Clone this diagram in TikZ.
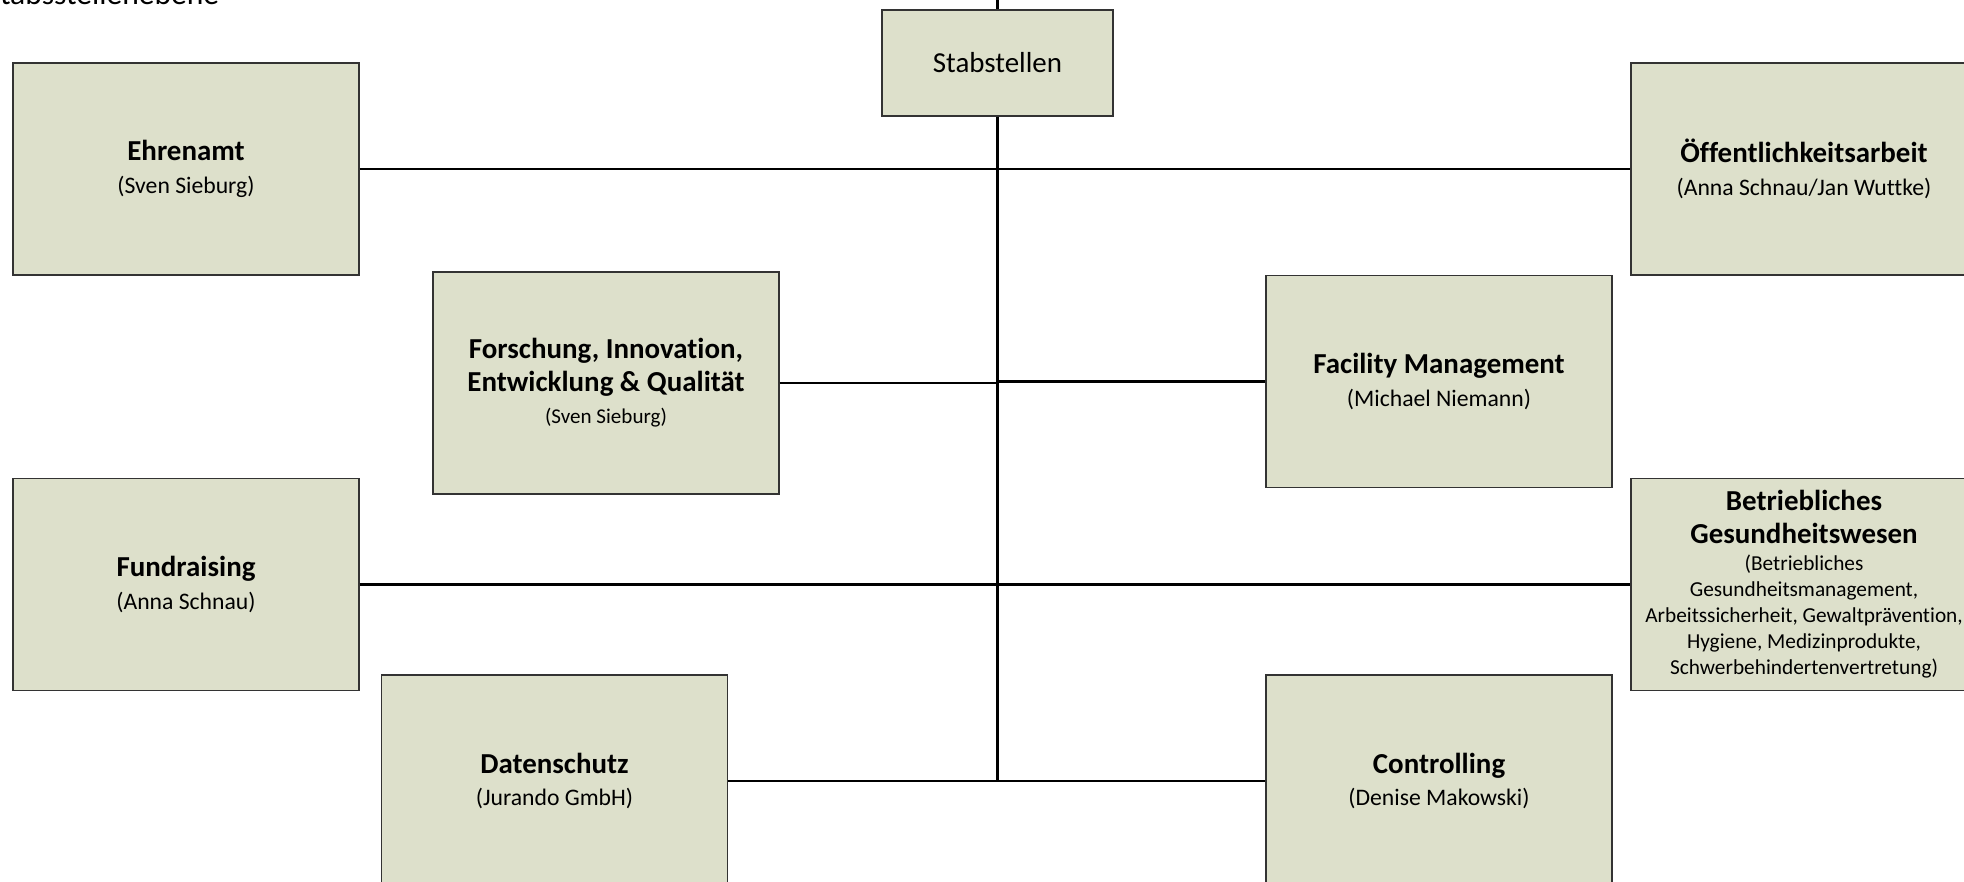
\documentclass[tikz,border=0pt]{standalone}
\usepackage{fontspec}
\setmainfont{Carlito}[Ligatures=NoCommon]
\definecolor{boxgreen}{RGB}{221,224,203}
\tikzset{
    stelle/.style={draw=black!80, fill=boxgreen, line width=0.5pt, align=center, inner sep=1pt,
        minimum width=131.5pt, minimum height=80.6pt, font=\fontsize{11}{12.4}\selectfont},
    linie/.style={line width=0.9pt},
}
\newcommand{\wer}[1]{{\fontsize{9}{10}\selectfont #1}}
\newcommand{\klein}[1]{{\fontsize{8.1}{9.5}\selectfont #1}}

\begin{document}
\begin{tikzpicture}[x=0.38pt, y=-0.38pt]
\useasboundingbox (0,0) rectangle (1964,882);

\node[anchor=base west, inner sep=0, font=\fontsize{12}{14}\selectfont] (ebene) at (-15,5) {Stabsstellenebene};

\node[stelle, minimum width=87.8pt, minimum height=40.3pt, font=\fontsize{11}{13}\selectfont] (stab) at (997.5,63) {Stabstellen};
\coordinate (oben) at (997.5,-5);
\coordinate (fuss) at (997.5,781);

% linke Seite
\node[stelle] (ehrenamt) at (186,169) {\textbf{Ehrenamt}\\\wer{(Sven Sieburg)}};
\node[stelle, minimum height=84.4pt] (forschung) at (606,383)
    {\textbf{Forschung, Innovation,}\\\textbf{Entwicklung \& Qualität}\\{\fontsize{8}{9}\selectfont (Sven Sieburg)}};
\node[stelle] (fundraising) at (186,584.4) {\textbf{Fundraising}\\\wer{(Anna Schnau)}};
\node[stelle] (datenschutz) at (554.5,781) {\textbf{Datenschutz}\\\wer{(Jurando GmbH)}};

% rechte Seite
\node[stelle] (oeffentlich) at (1804,169) {\textbf{Öffentlichkeitsarbeit}\\\wer{(Anna Schnau/Jan Wuttke)}};
\node[stelle] (facility) at (1439,381.5) {\textbf{Facility Management}\\\wer{(Michael Niemann)}};
\node[stelle] (bgw) at (1804,584.4) {\textbf{Betriebliches}\\\textbf{Gesundheitswesen}\\[-2pt]
    \klein{(Betriebliches}\\[-2.5pt]
    \klein{Gesundheitsmanagement,}\\[-2.5pt]
    \klein{Arbeitssicherheit, Gewaltprävention,}\\[-2.5pt]
    \klein{Hygiene, Medizinprodukte,}\\[-2.5pt]
    \klein{Schwerbehindertenvertretung)}};
\node[stelle] (controlling) at (1439,781) {\textbf{Controlling}\\\wer{(Denise Makowski)}};

% Verbindungen
\draw[linie] (oben) -- (stab);
\draw[linie, line width=1.1pt] (stab) -- (fuss);
\draw[linie] (ehrenamt) -- (oeffentlich);
\draw[linie] (forschung) -- (forschung -| fuss);
\draw[linie] (facility) -- (facility -| fuss);
\draw[linie] (fundraising) -- (bgw);
\draw[linie] (datenschutz) -- (controlling);
\end{tikzpicture}
\end{document}
